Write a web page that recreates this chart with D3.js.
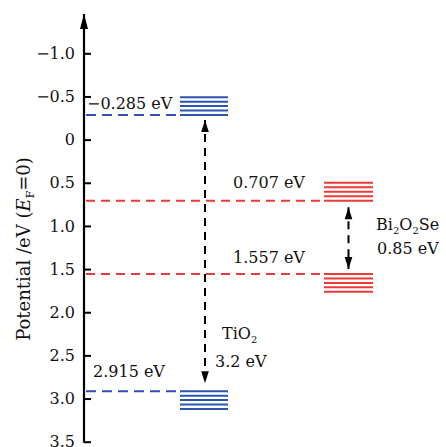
<!DOCTYPE html>
<html><head><meta charset="utf-8">
<script src="https://cdn.jsdelivr.net/npm/d3@7"></script>
<style>body{margin:0;background:#fff;} svg{display:block;} text{font-family:"DejaVu Serif",serif;}</style>
</head><body>
<svg id="c" width="446" height="447"></svg>
<script>
// ---- data ----
const tickValues = [-1.0, -0.5, 0, 0.5, 1.0, 1.5, 2.0, 2.5, 3.0, 3.5];
const materials = ["TiO2", "Bi2O2Se"];
const cbEdge = [-0.285, 0.707];   // upper band edges (eV)
const vbEdge = [2.915, 1.557];    // lower band edges (eV)
const gapValues = [3.2, 0.85];    // band gaps (eV)
const levelLabels = ["\u22120.285 eV", "0.707 eV", "1.557 eV", "2.915 eV"];

// ---- layout ----
const svg = d3.select("#c");
const axisX = 84;
const y = d3.scaleLinear().domain([-1.0, 3.5]).range([53.3, 441.7]);
const blue = "#2c54b4", red = "#ec3a36";
const colors = [blue, red];
const bandX = [[180, 228], [324, 373]];
const arrowX = [205, 348.5];
const arrowGapTop = [5, 6.5], arrowGapBottom = [8, 5];
const nLines = 5, lineStep = 4.45;

const defs = svg.append("defs");
function mk(id, dir) {
  const m = defs.append("marker").attr("id", id).attr("markerUnits", "userSpaceOnUse")
    .attr("markerWidth", 12).attr("markerHeight", 14).attr("refX", 6).attr("refY", dir === "up" ? 0 : 12)
    .attr("viewBox", "0 0 12 14").attr("orient", "0");
  m.append("path").attr("d", dir === "up" ? "M6,0 L9.8,12 L2.2,12 Z" : "M6,12 L9.8,0 L2.2,0 Z").attr("fill", "#000");
}
mk("up", "up"); mk("down", "down");
const axm = defs.append("marker").attr("id", "axup").attr("markerUnits", "userSpaceOnUse")
  .attr("markerWidth", 12).attr("markerHeight", 16).attr("refX", 6).attr("refY", 0)
  .attr("viewBox", "0 0 12 16").attr("orient", "0");
axm.append("path").attr("d", "M6,0 L10,15 L2,15 Z").attr("fill", "#000");

// ---- axis ----
const axis = d3.axisLeft(y).tickValues(tickValues)
  .tickSizeInner(-7).tickSizeOuter(0).tickPadding(9)
  .tickFormat(d => d === 0 ? "0" : d3.format(".1f")(d));
const g = svg.append("g").attr("transform", `translate(${axisX},0)`).call(axis);
g.select(".domain").remove();
g.selectAll(".tick line").attr("stroke", "#000").attr("stroke-width", 2);
g.selectAll(".tick text").attr("font-family", "DejaVu Serif").attr("font-size", 16).attr("fill", "#111");
svg.append("line").attr("x1", axisX).attr("x2", axisX).attr("y1", y(3.5) + 1).attr("y2", 14)
  .attr("stroke", "#000").attr("stroke-width", 2.2).attr("marker-end", "url(#axup)");

// y title
const t = svg.append("text").attr("transform", `translate(30,${249}) rotate(-90)`)
  .attr("text-anchor", "middle").attr("font-size", 18).attr("fill", "#111");
t.append("tspan").text("Potential /eV  (");
t.append("tspan").attr("font-style", "italic").text("E");
t.append("tspan").attr("font-size", 11).attr("dy", 4).text("F");
t.append("tspan").attr("dy", -4).text("=0)");

// ---- bands ----
materials.forEach((m, i) => {
  const c = colors[i];
  [[cbEdge[i], -1], [vbEdge[i], 1]].forEach(([v, dir]) => {
    svg.append("line").attr("x1", axisX + 2).attr("x2", bandX[i][0])
      .attr("y1", y(v)).attr("y2", y(v)).attr("stroke", c).attr("stroke-width", 2)
      .attr("stroke-dasharray", i === 0 ? "10,6" : "9,6");
    d3.range(nLines).forEach(k => {
      svg.append("line").attr("x1", bandX[i][0]).attr("x2", bandX[i][1])
        .attr("y1", y(v) + dir * k * lineStep).attr("y2", y(v) + dir * k * lineStep)
        .attr("stroke", c).attr("stroke-width", 2);
    });
  });
  // gap arrow
  svg.append("line").attr("x1", arrowX[i]).attr("x2", arrowX[i])
    .attr("y1", y(cbEdge[i]) + arrowGapTop[i]).attr("y2", y(vbEdge[i]) - arrowGapBottom[i])
    .attr("stroke", "#000").attr("stroke-width", 2).attr("stroke-dasharray", "8,6")
    .attr("marker-start", "url(#up)").attr("marker-end", "url(#down)");
});

// ---- labels ----
function label(x, yy, txt, anchor) {
  return svg.append("text").attr("x", x).attr("y", yy).attr("font-size", 16).attr("fill", "#111")
    .attr("text-anchor", anchor || "start").text(txt);
}
label(87, y(cbEdge[0]) - 6, levelLabels[0]);
label(233, y(cbEdge[1]) - 13, levelLabels[1]);
label(233, y(vbEdge[1]) - 11, levelLabels[2]);
label(93, y(vbEdge[0]) - 14, levelLabels[3]);

function chem(x, yy, parts) {
  const tx = svg.append("text").attr("x", x).attr("y", yy).attr("font-size", 16).attr("fill", "#111");
  let prevSub = false;
  parts.forEach(p => {
    const sub = /\d/.test(p);
    tx.append("tspan").attr("font-size", sub ? 10 : 16)
      .attr("dy", sub ? 4 : (prevSub ? -4 : 0)).text(p);
    prevSub = sub;
  });
}
chem(222, 339, ["Ti", "O", "2"]);
label(215, 367, gapValues[0] + " eV");
chem(376, 230, ["Bi", "2", "O", "2", "Se"]);
label(377, 254, gapValues[1] + " eV");
</script>
</body></html>
